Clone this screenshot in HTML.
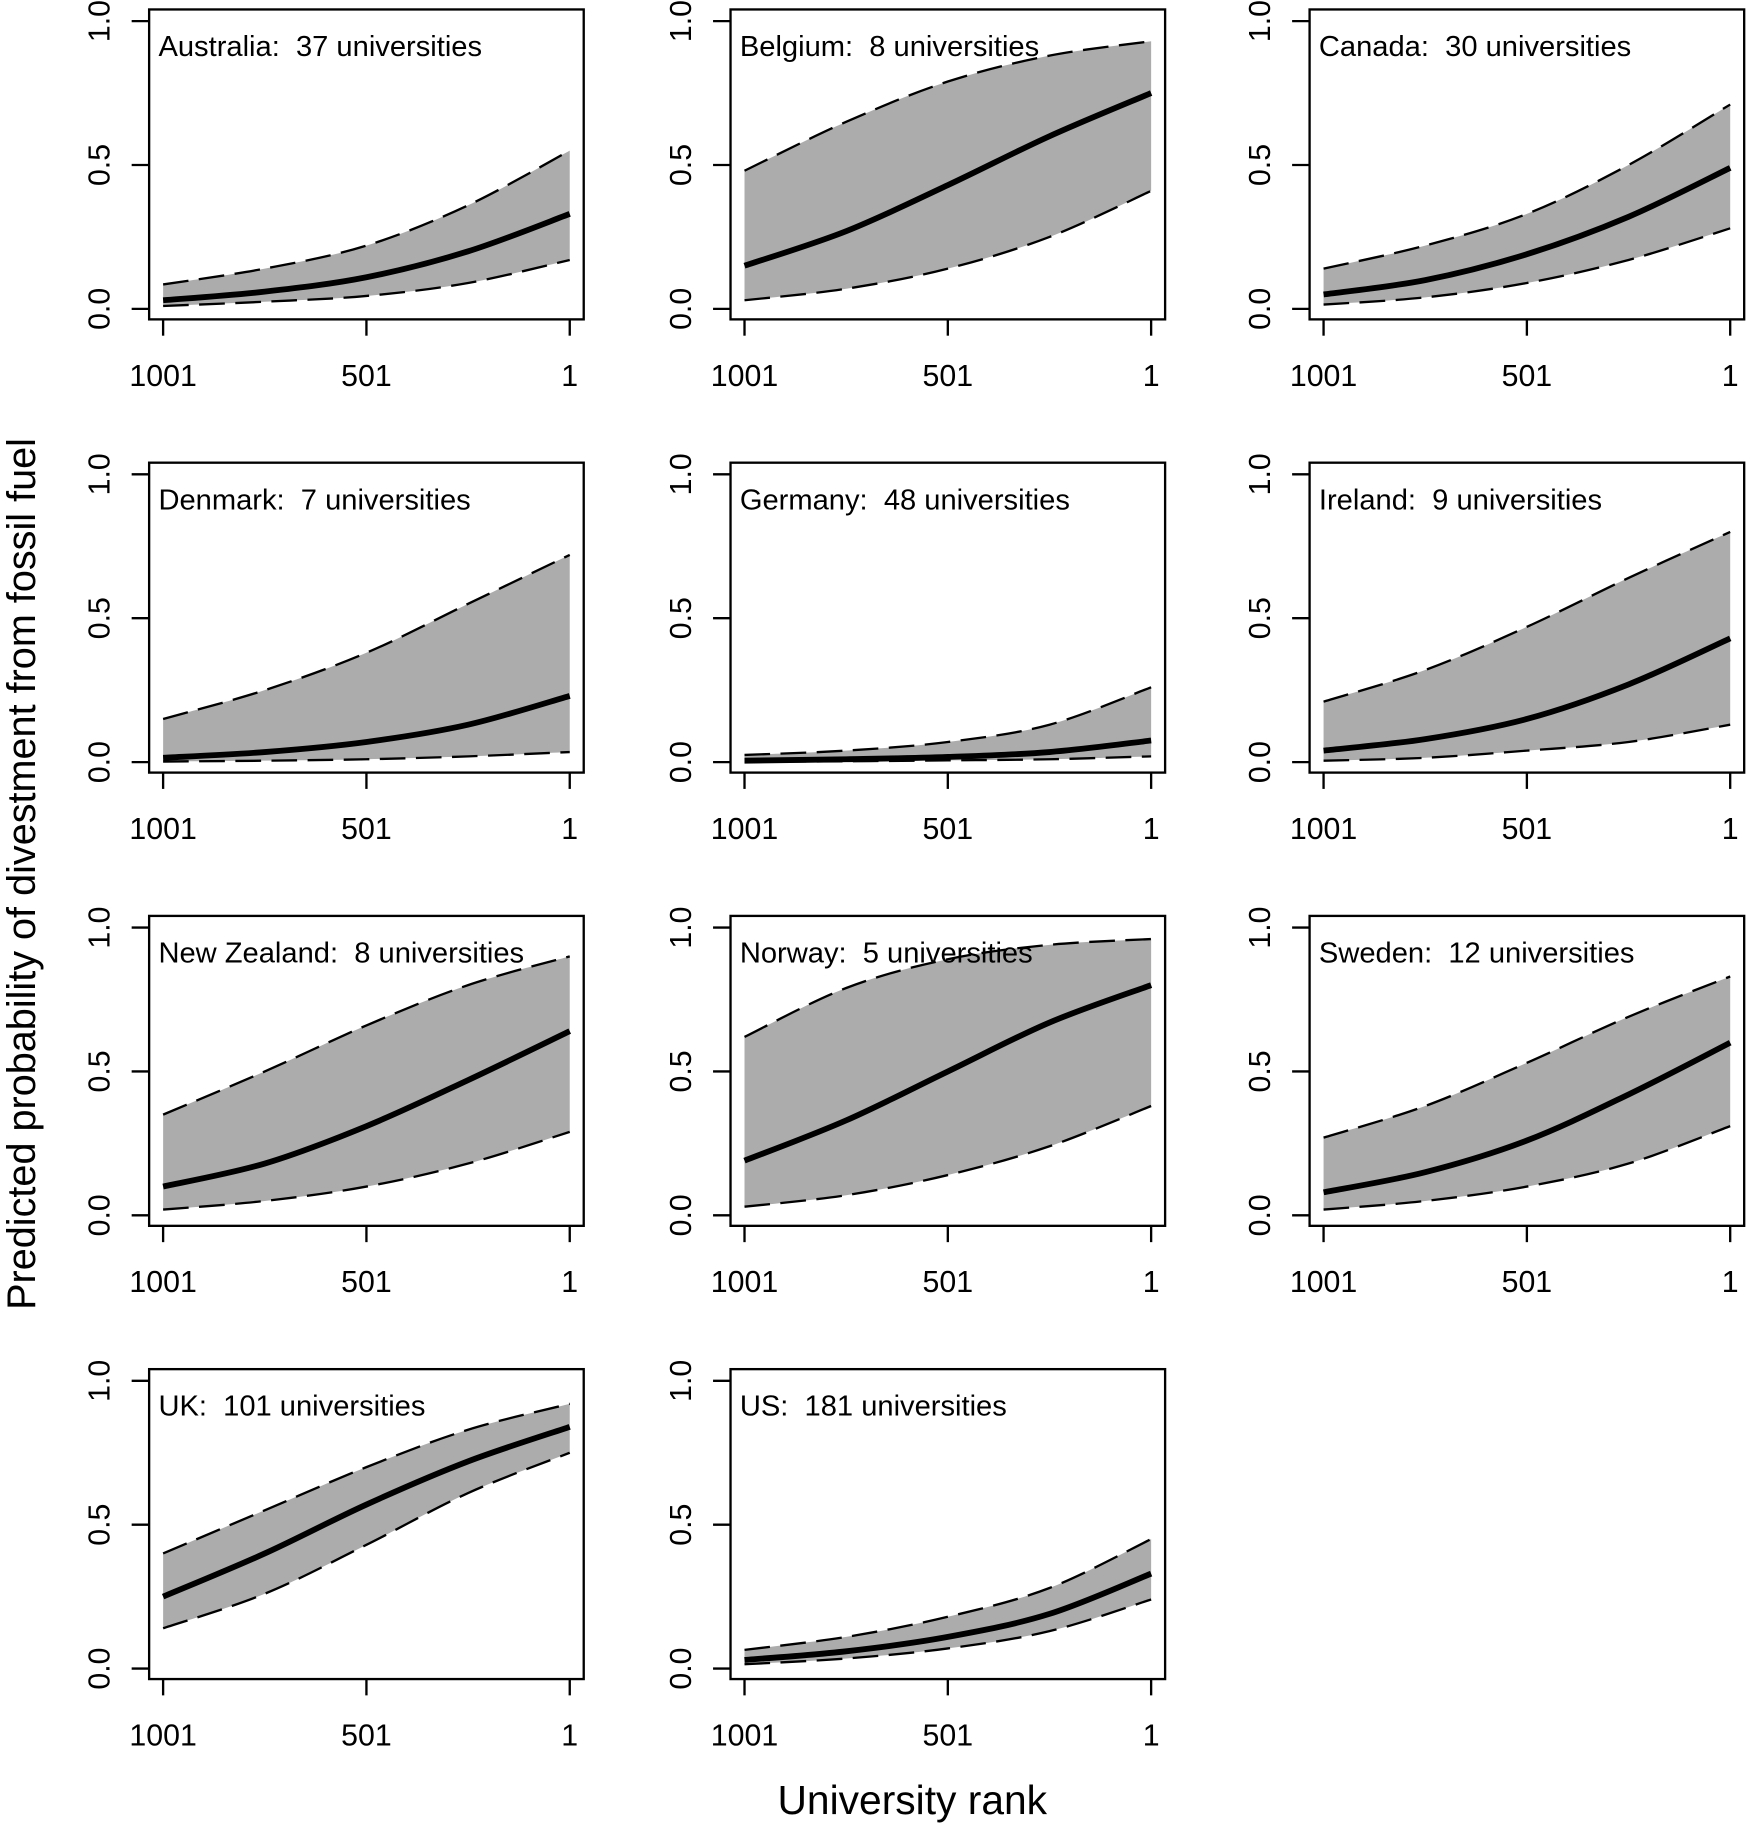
<!DOCTYPE html>
<html><head><meta charset="utf-8"><style>
html,body{margin:0;padding:0;background:#fff}
svg{display:block;font-family:"Liberation Sans",Arial,sans-serif}
text{white-space:pre}
</style></head><body>
<svg id="chart" width="1750" height="1826" viewBox="0 0 1502 1567" xmlns="http://www.w3.org/2000/svg">
<text x="0" y="0" transform="translate(30,750) rotate(-90)" text-anchor="middle" font-size="34">Predicted probability of divestment from fossil fuel</text>
<text x="783" y="1557" text-anchor="middle" font-size="35">University rank</text>
</svg>
<script>
const ranks = [1001, 751, 501, 251, 1];
const countries = ["Australia","Belgium","Canada","Denmark","Germany","Ireland","New Zealand","Norway","Sweden","UK","US"];
const counts = [37,8,30,7,48,9,8,5,12,101,181];
const meanVals = [
 [.03,.06,.11,.20,.33],[.15,.27,.43,.60,.75],[.05,.10,.19,.32,.49],
 [.015,.035,.07,.13,.23],[.005,.01,.018,.035,.075],[.04,.08,.15,.27,.43],
 [.10,.18,.31,.47,.64],[.19,.33,.50,.67,.80],[.08,.15,.26,.42,.60],
 [.25,.40,.57,.72,.84],[.03,.06,.11,.19,.33]];
const upperVals = [
 [.085,.14,.22,.36,.55],[.48,.65,.79,.88,.93],[.14,.22,.33,.50,.71],
 [.15,.25,.38,.55,.72],[.025,.04,.07,.13,.26],[.21,.32,.47,.64,.80],
 [.35,.50,.66,.80,.90],[.62,.79,.89,.94,.96],[.27,.38,.53,.69,.83],
 [.40,.55,.70,.83,.92],[.065,.11,.18,.28,.45]];
const lowerVals = [
 [.01,.025,.045,.09,.17],[.03,.07,.14,.25,.41],[.015,.04,.09,.17,.28],
 [.002,.005,.01,.02,.035],[.001,.003,.006,.01,.02],[.005,.015,.04,.07,.13],
 [.02,.05,.10,.18,.29],[.03,.07,.14,.24,.38],[.02,.05,.10,.18,.31],
 [.14,.26,.43,.61,.75],[.015,.035,.07,.13,.24]];
const yTicks = [0, 0.5, 1];
const yTickLabels = ["0.0","0.5","1.0"];
const xTicks = [1001, 501, 1];
const xTickLabels = ["1001","501","1"];

const NS="http://www.w3.org/2000/svg";
const svg=document.getElementById('chart');
function mk(tag,attrs,parent){const e=document.createElementNS(NS,tag);for(const k in attrs)e.setAttribute(k,attrs[k]);(parent||svg).appendChild(e);return e;}
const colX=[128,627,1124], rowY=[8,397,786,1175], BW=373, BH=266;
function smooth(pts){let d="M"+pts[0][0]+","+pts[0][1];
 for(let i=0;i<pts.length-1;i++){const p0=pts[Math.max(0,i-1)],p1=pts[i],p2=pts[i+1],p3=pts[Math.min(pts.length-1,i+2)];
  const c1=[p1[0]+(p2[0]-p0[0])/6,p1[1]+(p2[1]-p0[1])/6],c2=[p2[0]-(p3[0]-p1[0])/6,p2[1]-(p3[1]-p1[1])/6];
  d+=" C"+c1[0]+","+c1[1]+" "+c2[0]+","+c2[1]+" "+p2[0]+","+p2[1];}
 return d;}
countries.forEach((c,i)=>{
 const bx=colX[i%3], by=rowY[Math.floor(i/3)];
 const g=mk('g',{});
 
 
 const xs=r=>bx+12+(1001-r)/1000*349;
 const ys=v=>by+257-v*247;
 const up=ranks.map((r,k)=>[xs(r),ys(upperVals[i][k])]);
 const lo=ranks.map((r,k)=>[xs(r),ys(lowerVals[i][k])]);
 const mn=ranks.map((r,k)=>[xs(r),ys(meanVals[i][k])]);
 const loRev=lo.slice().reverse();
 const band=mk('path',{d:smooth(up)+" L"+loRev[0][0]+","+loRev[0][1]+smooth(loRev).replace(/^M[^ C]+/,"")+" Z",fill:"#acacac",stroke:"none"},g);
 
 
 const ul=mk('path',{d:smooth(up),fill:"none",stroke:"#000","stroke-width":2,"stroke-dasharray":"22 9"},g);
 
 
 const ll=mk('path',{d:smooth(lo),fill:"none",stroke:"#000","stroke-width":2,"stroke-dasharray":"22 9"},g);
 
 
 const ml=mk('path',{d:smooth(mn),fill:"none",stroke:"#000","stroke-width":5},g);
 
 
 const box=mk('rect',{x:bx,y:by,width:BW,height:BH,fill:"none",stroke:"#000","stroke-width":2},g);
 
 
 const lab=mk('text',{x:bx+8,y:by+40,"font-size":25},g);
 lab.textContent=c+":  "+counts[i]+" universities";
 
 
 yTicks.forEach((t,k)=>{
  const y=ys(t);
  mk('line',{x1:bx-15,x2:bx,y1:y,y2:y,stroke:"#000","stroke-width":2},g);
  const tl=mk('text',{x:0,y:0,transform:`translate(${bx-34},${y}) rotate(-90)`,"text-anchor":"middle","font-size":26},g);
  tl.textContent=yTickLabels[k];
  
  
 });
 xTicks.forEach((t,k)=>{
  const x=xs(t);
  mk('line',{x1:x,x2:x,y1:by+BH,y2:by+BH+14,stroke:"#000","stroke-width":2},g);
  const tl=mk('text',{x:x,y:by+BH+57,"text-anchor":"middle","font-size":26},g);
  tl.textContent=xTickLabels[k];
  
  
 });
});
</script>
</body></html>
